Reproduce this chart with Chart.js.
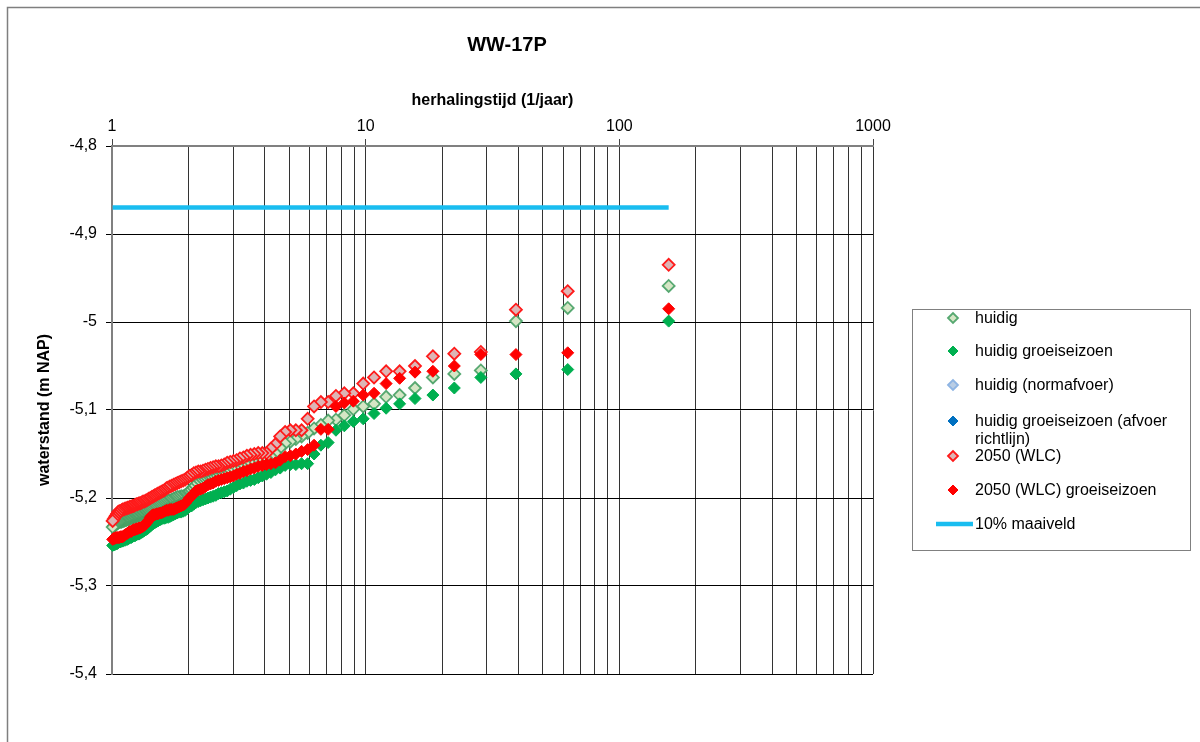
<!DOCTYPE html>
<html>
<head>
<meta charset="utf-8">
<script src="https://cdn.jsdelivr.net/npm/chart.js@4.4.1/dist/chart.umd.min.js"></script>
<style>
html,body{margin:0;padding:0;background:#fff;}
#wrap{position:relative;width:1200px;height:742px;}
</style>
</head>
<body>
<div id="wrap"><canvas id="c"></canvas></div>
<script>
// ---------- data ----------
const chartTitle = 'WW-17P';
const xAxisTitle = 'herhalingstijd (1/jaar)';
const yAxisTitle = 'waterstand (m NAP)';
const xTickLabels = [1, 10, 100, 1000];
const xGridValues = [1,2,3,4,5,6,7,8,9,10,20,30,40,50,60,70,80,90,100,200,300,400,500,600,700,800,900,1000];
const yTickValues = [-5.4, -5.3, -5.2, -5.1, -5.0, -4.9, -4.8];

const seriesNames = [
  'huidig',
  'huidig groeiseizoen',
  'huidig (normafvoer)',
  'huidig groeiseizoen (afvoer richtlijn)',
  '2050 (WLC)',
  '2050 (WLC) groeiseizoen',
  '10% maaiveld'
];

// return periods (years), rank 1 .. 104
const returnPeriods = [
  156.5, 62.6, 39.12, 28.45, 22.36, 18.41, 15.65, 13.61, 12.04, 10.79,
  9.781, 8.943, 8.237, 7.634, 7.114, 6.660, 6.260, 5.906, 5.589, 5.305,
  5.048, 4.815, 4.603, 4.408, 4.230, 4.065, 3.913, 3.771, 3.640, 3.517,
  3.402, 3.295, 3.194, 3.099, 3.010, 2.925, 2.845, 2.770, 2.698, 2.630,
  2.566, 2.504, 2.445, 2.389, 2.336, 2.285, 2.236, 2.189, 2.144, 2.101,
  2.059, 2.019, 1.981, 1.944, 1.909, 1.874, 1.841, 1.809, 1.778, 1.749,
  1.720, 1.692, 1.665, 1.639, 1.613, 1.589, 1.565, 1.542, 1.519, 1.498,
  1.476, 1.456, 1.436, 1.416, 1.397, 1.379, 1.361, 1.343, 1.326, 1.310,
  1.293, 1.278, 1.262, 1.247, 1.232, 1.218, 1.204, 1.190, 1.177, 1.164,
  1.151, 1.138, 1.126, 1.114, 1.102, 1.091, 1.079, 1.068, 1.057, 1.047,
  1.036, 1.026, 1.016, 1.006
];

const huidig = [
  -4.959, -4.984, -4.999, -5.055, -5.059, -5.063, -5.075, -5.083, -5.085, -5.093,
  -5.096, -5.099, -5.106, -5.111, -5.112, -5.117, -5.121, -5.126, -5.130, -5.133,
  -5.136, -5.138, -5.143, -5.149, -5.153, -5.155, -5.157, -5.158, -5.160, -5.161,
  -5.163, -5.165, -5.166, -5.168, -5.169, -5.171, -5.173, -5.175, -5.176, -5.177,
  -5.178, -5.179, -5.180, -5.181, -5.182, -5.182, -5.183, -5.184, -5.185, -5.187,
  -5.190, -5.193, -5.195, -5.197, -5.198, -5.198, -5.199, -5.199, -5.200, -5.201,
  -5.202, -5.203, -5.203, -5.204, -5.205, -5.205, -5.206, -5.207, -5.208, -5.209,
  -5.210, -5.211, -5.212, -5.213, -5.214, -5.215, -5.216, -5.217, -5.218, -5.219,
  -5.219, -5.220, -5.220, -5.221, -5.221, -5.222, -5.222, -5.223, -5.223, -5.224,
  -5.224, -5.225, -5.225, -5.226, -5.226, -5.227, -5.227, -5.227, -5.228, -5.229,
  -5.230, -5.231, -5.232, -5.233
];

const huidigGroei = [
  -4.999, -5.054, -5.059, -5.063, -5.075, -5.083, -5.087, -5.093, -5.098, -5.104,
  -5.110, -5.113, -5.118, -5.123, -5.137, -5.140, -5.150, -5.161, -5.161, -5.162,
  -5.162, -5.163, -5.166, -5.168, -5.171, -5.173, -5.175, -5.177, -5.179, -5.180,
  -5.181, -5.183, -5.184, -5.186, -5.188, -5.190, -5.192, -5.193, -5.194, -5.195,
  -5.197, -5.198, -5.199, -5.200, -5.201, -5.202, -5.203, -5.204, -5.205, -5.207,
  -5.209, -5.210, -5.212, -5.214, -5.215, -5.216, -5.216, -5.217, -5.218, -5.219,
  -5.220, -5.221, -5.222, -5.222, -5.223, -5.223, -5.224, -5.225, -5.226, -5.227,
  -5.228, -5.229, -5.230, -5.232, -5.233, -5.235, -5.236, -5.237, -5.238, -5.239,
  -5.240, -5.241, -5.241, -5.242, -5.243, -5.243, -5.244, -5.245, -5.245, -5.246,
  -5.247, -5.247, -5.248, -5.248, -5.249, -5.249, -5.250, -5.250, -5.251, -5.252,
  -5.252, -5.253, -5.253, -5.254
];

const huidigNormafvoer = [];
const huidigGroeiRichtlijn = [];

const wlc2050 = [
  -4.935, -4.965, -4.986, -5.034, -5.036, -5.039, -5.050, -5.056, -5.056, -5.063,
  -5.070, -5.081, -5.081, -5.084, -5.091, -5.091, -5.096, -5.110, -5.123, -5.123,
  -5.123, -5.125, -5.130, -5.139, -5.144, -5.149, -5.149, -5.149, -5.150, -5.151,
  -5.152, -5.154, -5.155, -5.157, -5.158, -5.159, -5.160, -5.162, -5.163, -5.164,
  -5.164, -5.165, -5.166, -5.167, -5.168, -5.169, -5.170, -5.170, -5.171, -5.172,
  -5.174, -5.175, -5.177, -5.179, -5.180, -5.181, -5.182, -5.183, -5.184, -5.185,
  -5.186, -5.187, -5.188, -5.189, -5.191, -5.192, -5.193, -5.194, -5.195, -5.196,
  -5.197, -5.198, -5.199, -5.200, -5.201, -5.202, -5.203, -5.204, -5.204, -5.205,
  -5.206, -5.206, -5.207, -5.207, -5.208, -5.209, -5.209, -5.210, -5.210, -5.211,
  -5.211, -5.212, -5.212, -5.213, -5.213, -5.214, -5.215, -5.215, -5.216, -5.218,
  -5.220, -5.222, -5.224, -5.226
];

const wlc2050Groei = [
  -4.985, -5.035, -5.037, -5.037, -5.050, -5.056, -5.057, -5.064, -5.070, -5.081,
  -5.083, -5.090, -5.092, -5.096, -5.122, -5.122, -5.140, -5.145, -5.147, -5.150,
  -5.152, -5.153, -5.157, -5.160, -5.161, -5.162, -5.163, -5.164, -5.166, -5.167,
  -5.169, -5.170, -5.172, -5.173, -5.175, -5.176, -5.177, -5.178, -5.179, -5.180,
  -5.181, -5.183, -5.184, -5.185, -5.187, -5.189, -5.190, -5.191, -5.192, -5.195,
  -5.198, -5.200, -5.203, -5.206, -5.208, -5.209, -5.210, -5.211, -5.212, -5.213,
  -5.213, -5.213, -5.214, -5.214, -5.215, -5.216, -5.217, -5.217, -5.218, -5.218,
  -5.219, -5.219, -5.220, -5.222, -5.225, -5.227, -5.229, -5.231, -5.232, -5.233,
  -5.234, -5.234, -5.235, -5.235, -5.236, -5.236, -5.237, -5.238, -5.238, -5.239,
  -5.240, -5.241, -5.242, -5.243, -5.244, -5.244, -5.244, -5.245, -5.245, -5.245,
  -5.245, -5.246, -5.246, -5.247
];

const maaiveld10 = -4.87;

// ---------- chart ----------
const FONT = "'Liberation Sans', Arial, Helvetica, sans-serif";
Chart.defaults.font.family = FONT;
Chart.defaults.color = '#000';

function pts(values) {
  return values.map((v, i) => ({ x: returnPeriods[i], y: v }));
}
function isDecade(v) {
  const l = Math.log10(v);
  return Math.abs(l - Math.round(l)) < 1e-9;
}

const styles = [
  { bg: '#D5E6C5', border: 'rgba(70,160,100,0.9)', bw: 1.8, r: 6 },
  { bg: '#00B050', border: '#00B050', bw: 1, r: 6 },
  { bg: '#B9CDE5', border: '#8EB4E3', bw: 1.8, r: 6 },
  { bg: '#0070C0', border: '#0070C0', bw: 1, r: 6 },
  { bg: '#DDB5B5', border: '#FF1A1A', bw: 1.8, r: 6 },
  { bg: '#FF0000', border: '#FF0000', bw: 1, r: 6 }
];
const seriesValues = [huidig, huidigGroei, huidigNormafvoer, huidigGroeiRichtlijn, wlc2050, wlc2050Groei];

const datasets = seriesValues.map((vals, i) => ({
  type: 'scatter',
  label: seriesNames[i],
  data: pts(vals),
  pointStyle: 'rectRot',
  pointRadius: styles[i].r,
  pointBackgroundColor: styles[i].bg,
  pointBorderColor: styles[i].border,
  pointBorderWidth: styles[i].bw,
  backgroundColor: styles[i].bg,
  borderColor: styles[i].border,
  showLine: false,
  clip: false,
  order: 10 - i
}));
datasets.push({
  type: 'line',
  label: seriesNames[6],
  data: [{ x: returnPeriods[returnPeriods.length - 1], y: maaiveld10 }, { x: returnPeriods[0], y: maaiveld10 }],
  borderColor: '#19BDF0',
  backgroundColor: '#19BDF0',
  borderWidth: 4.5,
  pointRadius: 0,
  fill: false,
  clip: false,
  order: 0
});

const legendRows = [
  { ds: 0, lines: ['huidig'], y: 318 },
  { ds: 1, lines: ['huidig groeiseizoen'], y: 351 },
  { ds: 2, lines: ['huidig (normafvoer)'], y: 385 },
  { ds: 3, lines: ['huidig groeiseizoen (afvoer', 'richtlijn)'], y: 421 },
  { ds: 4, lines: ['2050 (WLC)'], y: 456 },
  { ds: 5, lines: ['2050 (WLC) groeiseizoen'], y: 490 },
  { ds: 6, lines: ['10% maaiveld'], y: 524 }
];

function diamond(ctx, x, y, r, fill, stroke, lw) {
  ctx.beginPath();
  ctx.moveTo(x - r, y);
  ctx.lineTo(x, y - r);
  ctx.lineTo(x + r, y);
  ctx.lineTo(x, y + r);
  ctx.closePath();
  ctx.fillStyle = fill;
  ctx.fill();
  ctx.lineWidth = lw;
  ctx.strokeStyle = stroke;
  ctx.stroke();
}

const framePlugin = {
  id: 'frame',
  beforeDraw(chart) {
    const ctx = chart.ctx;
    ctx.save();
    ctx.fillStyle = '#fff';
    ctx.fillRect(0, 0, chart.width, chart.height);
    ctx.strokeStyle = '#7f7f7f';
    ctx.lineWidth = 1.5;
    ctx.strokeRect(7.5, 7.5, chart.width + 20, chart.height + 20);
    ctx.restore();
  }
};

const boxLegend = {
  id: 'boxLegend',
  afterDraw(chart) {
    const ctx = chart.ctx;
    ctx.save();
    ctx.strokeStyle = '#808080';
    ctx.lineWidth = 1;
    ctx.strokeRect(912.5, 309.5, 278, 241);
    ctx.font = '16px ' + FONT;
    ctx.textBaseline = 'middle';
    ctx.textAlign = 'left';
    legendRows.forEach(row => {
      const ds = chart.data.datasets[row.ds];
      if (ds.type === 'line') {
        ctx.beginPath();
        ctx.moveTo(936, row.y);
        ctx.lineTo(973, row.y);
        ctx.lineWidth = ds.borderWidth;
        ctx.strokeStyle = ds.borderColor;
        ctx.stroke();
      } else {
        diamond(ctx, 953, row.y, 5, ds.pointBackgroundColor, ds.pointBorderColor, ds.pointBorderWidth);
      }
      ctx.fillStyle = '#000';
      row.lines.forEach((t, k) => ctx.fillText(t, 975, row.y + 1 + k * 17.5));
    });
    ctx.restore();
  }
};

new Chart(document.getElementById('c'), {
  type: 'scatter',
  data: { datasets },
  plugins: [framePlugin, boxLegend],
  options: {
    responsive: true,
    maintainAspectRatio: false,
    animation: false,
    events: [],
    layout: { padding: { left: 0, top: 0, right: 186, bottom: 68 } },
    plugins: {
      legend: { display: false },
      tooltip: { enabled: false },
      title: {
        display: true,
        text: chartTitle,
        color: '#000',
        font: { size: 20, weight: 'bold', family: FONT },
        padding: { top: 33, bottom: 0 }
      }
    },
    scales: {
      x: {
        type: 'logarithmic',
        position: 'top',
        min: 1,
        max: 1000,
        afterBuildTicks: s => { s.ticks = xGridValues.map(v => ({ value: v, major: isDecade(v) })); },
        afterFit: s => { s.height = 89; },
        title: {
          display: true,
          text: xAxisTitle,
          color: '#000',
          font: { size: 16, weight: 'bold', family: FONT },
          padding: { top: 34, bottom: 0 }
        },
        ticks: {
          autoSkip: false,
          maxRotation: 0,
          minRotation: 0,
          padding: 3,
          color: '#000',
          font: { size: 16, family: FONT },
          callback: v => (xTickLabels.includes(v) ? String(v) : '')
        },
        grid: {
          color: '#333',
          lineWidth: 1,
          tickLength: 7,
          tickColor: ctx => (ctx.tick && isDecade(ctx.tick.value) ? '#444' : 'rgba(0,0,0,0)')
        },
        border: { color: '#808080', width: 2 }
      },
      y: {
        type: 'linear',
        position: 'left',
        min: -5.4,
        max: -4.8,
        afterBuildTicks: s => { s.ticks = yTickValues.map(v => ({ value: v })); },
        afterFit: s => { s.width = 112; },
        title: {
          display: true,
          text: yAxisTitle,
          color: '#000',
          font: { size: 16, weight: 'bold', family: FONT },
          padding: { top: 35, bottom: 0 }
        },
        ticks: {
          padding: 9,
          color: '#000',
          font: { size: 16, family: FONT },
          callback: v => String(Math.round(v * 10) / 10).replace('.', ',')
        },
        grid: { color: '#000', lineWidth: 1, tickLength: 6, tickColor: '#000' },
        border: { color: '#808080', width: 2 }
      },
      yPad: {
        type: 'linear',
        position: 'right',
        display: true,
        afterFit: s => { s.width = 141; },
        grid: { display: false },
        ticks: { display: false },
        border: { display: false }
      }
    }
  }
});
</script>
</body>
</html>
